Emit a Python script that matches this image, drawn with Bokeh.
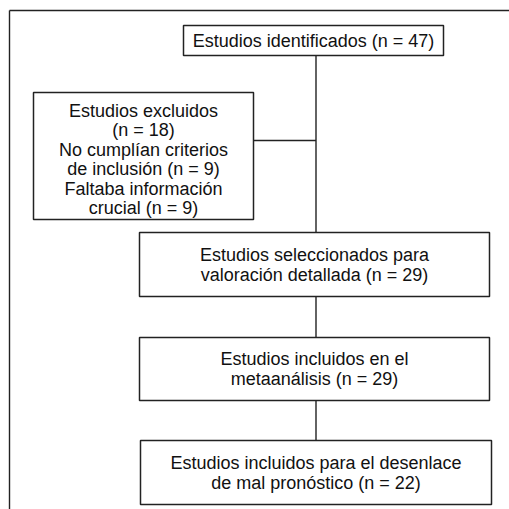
from bokeh.plotting import figure
from bokeh.models import Range1d
from bokeh.core.properties import value
from bokeh.embed import file_html
from bokeh.resources import INLINE

# ---- data ----
stage_labels = [
    "Estudios identificados",
    "Estudios excluidos",
    "Estudios seleccionados para valoración detallada",
    "Estudios incluidos en el metaanálisis",
    "Estudios incluidos para el desenlace de mal pronóstico",
]
stage_counts = [47, 18, 29, 29, 22]
exclusion_reasons = ["No cumplían criterios de inclusión", "Faltaba información crucial"]
exclusion_counts = [9, 9]

box_lines = [
    [f"Estudios identificados (n = {stage_counts[0]})"],
    ["Estudios excluidos", f"(n = {stage_counts[1]})",
     "No cumplían criterios", f"de inclusión (n = {exclusion_counts[0]})",
     "Faltaba información", f"crucial (n = {exclusion_counts[1]})"],
    ["Estudios seleccionados para", f"valoración detallada (n = {stage_counts[2]})"],
    ["Estudios incluidos en el", f"metaanálisis (n = {stage_counts[3]})"],
    ["Estudios incluidos para el desenlace", f"de mal pronóstico (n = {stage_counts[4]})"],
]

# ---- layout (screen pixel coordinates) ----
boxes = [  # left, right, top, bottom
    (183, 443, 25, 55),
    (33, 253, 92, 219),
    (139, 489, 232, 296),
    (139, 489, 337, 400),
    (140, 491, 440, 504),
]
line_y = [
    [40],
    [110, 129.5, 149, 168.5, 188, 207.5],
    [254, 274],
    [358, 378],
    [462, 482],
]

W = H = 509
p = figure(width=W, height=H, x_range=Range1d(0, W), y_range=Range1d(H, 0),
           output_backend="svg", toolbar_location=None, min_border=0)
p.axis.visible = False
p.grid.visible = False
p.outline_line_color = None
p.background_fill_color = "white"
p.border_fill_color = "white"

ink = "#222222"

# outer frame (top & left)
p.line(x=[9, 520], y=[10, 10], line_color=ink, line_width=1.4)
p.line(x=[9, 9], y=[10, 520], line_color=ink, line_width=1.4)

# connectors
cx = 315.5
p.line(x=[cx, cx], y=[boxes[0][3], boxes[2][2]], line_color=ink, line_width=1.4)
p.line(x=[boxes[1][1], cx], y=[140, 140], line_color=ink, line_width=1.4)
p.line(x=[cx, cx], y=[boxes[2][3], boxes[3][2]], line_color=ink, line_width=1.4)
p.line(x=[cx, cx], y=[boxes[3][3], boxes[4][2]], line_color=ink, line_width=1.4)

# boxes
p.quad(left=[b[0] for b in boxes], right=[b[1] for b in boxes],
       top=[b[2] for b in boxes], bottom=[b[3] for b in boxes],
       fill_color="white", line_color=ink, line_width=1.5)

# texts
xs, ys, ts = [], [], []
for b, lines, yy in zip(boxes, box_lines, line_y):
    mid = (b[0] + b[1]) / 2
    for t, y in zip(lines, yy):
        xs.append(mid)
        ys.append(y)
        ts.append(t)
p.text(x=xs, y=ys, text=ts, text_align="center", text_baseline="middle",
       text_font=value("Liberation Sans"), text_font_size="18px", text_color="#111111")

open("out.html", "w").write(file_html(p, INLINE))
